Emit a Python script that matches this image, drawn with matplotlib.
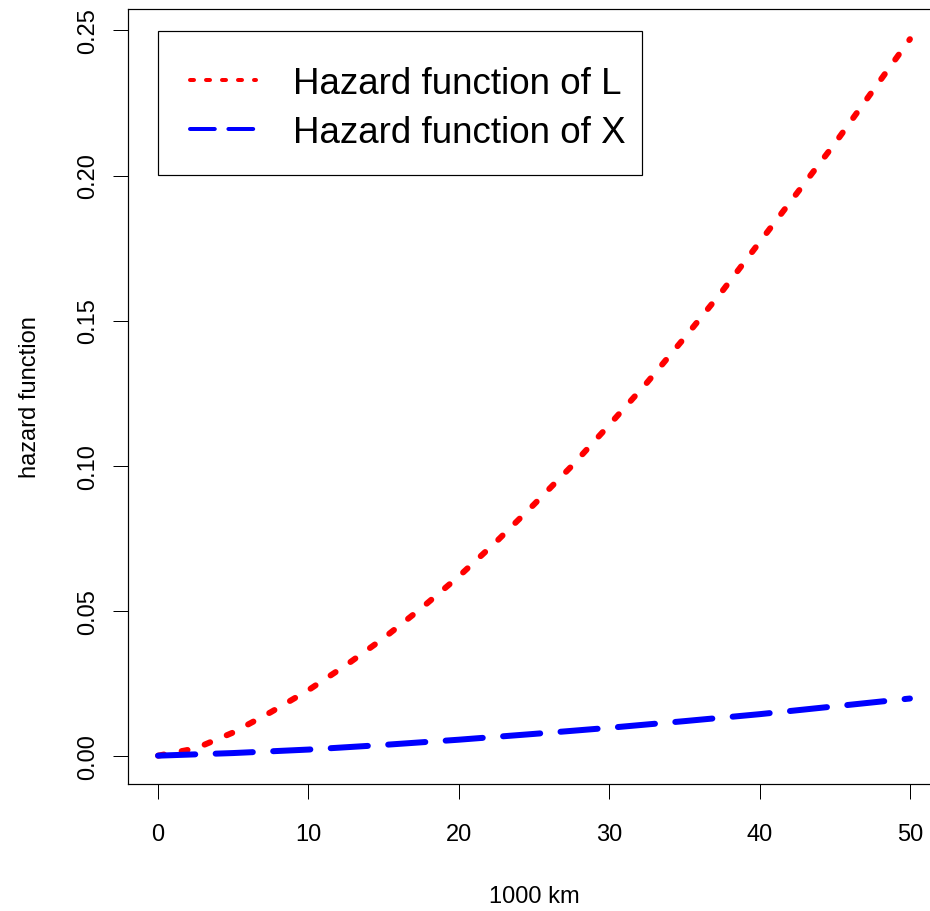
import matplotlib
matplotlib.use('Agg')
import matplotlib.pyplot as plt
from matplotlib.lines import Line2D
from matplotlib.patches import Rectangle

# ---- data ----
x_L = [0, 2.5, 5, 7.5, 10, 12.5, 15, 17.5, 20, 22.5, 25, 27.5, 30,
       32.5, 35, 37.5, 40, 42.5, 45, 47.5, 50]
hazard_L = [0.0, 0.0025, 0.0080, 0.0150, 0.0226, 0.0312, 0.0405, 0.0508,
            0.0618, 0.0738, 0.0866, 0.0998, 0.1140, 0.1285, 0.1440, 0.1600,
            0.1770, 0.1940, 0.2110, 0.2290, 0.2470]
x_X = [0, 5, 10, 15, 20, 25, 30, 35, 40, 45, 50]
hazard_X = [0.0, 0.0009, 0.0021, 0.0037, 0.0055, 0.0075, 0.0096, 0.0119,
            0.0143, 0.0170, 0.0197]
x_ticks = [0, 10, 20, 30, 40, 50]
y_ticks = [0.00, 0.05, 0.10, 0.15, 0.20, 0.25]
y_tick_labels = ['0.00', '0.05', '0.10', '0.15', '0.20', '0.25']
series_labels = ['Hazard function of L', 'Hazard function of X']
x_label = '1000 km'
y_label = 'hazard function'

# ---- style ----
plt.rcParams['font.family'] = ['Liberation Sans', 'DejaVu Sans']
DPI = 100
W, H = 930, 912


def px(p):
    return p * 72.0 / DPI


fig = plt.figure(figsize=(W / DPI, H / DPI), dpi=DPI)
ax = fig.add_axes([128 / W, 1 - 785 / H, 812 / W, 775 / H])

dot_style = (0, (1, 3))
dash_style = (0, (6.2, 3.4))

ax.plot(x_L, hazard_L, color='#ff0000', lw=px(6), linestyle=dot_style,
        dash_capstyle='round')
ax.plot(x_X, hazard_X, color='#0000ff', lw=px(6), linestyle=dash_style,
        dash_capstyle='round')

ax.set_xlim(-2, 52)
ax.set_ylim(-0.00977, 0.2574)

ax.set_xticks(x_ticks)
ax.set_xticklabels([str(t) for t in x_ticks])
ax.set_yticks(y_ticks)
ax.set_yticklabels(y_tick_labels, rotation=90, va='center')

ax.tick_params(axis='both', direction='out', length=px(15), width=px(1),
               labelsize=17, color='black')
ax.tick_params(axis='x', pad=17.5)
ax.tick_params(axis='y', pad=10)
for s in ax.spines.values():
    s.set_linewidth(px(1.2))
    s.set_color('black')

fig.text(534 / W, 1 - 897 / H, x_label, fontsize=17, ha='center', va='center')
fig.text(30 / W, 1 - 397 / H, y_label, fontsize=17, ha='center', va='center',
         rotation=90)

# legend
handles = [
    Line2D([], [], color='#ff0000', lw=px(4), linestyle=dot_style,
           dash_capstyle='round'),
    Line2D([], [], color='#0000ff', lw=px(4), linestyle=dash_style,
           dash_capstyle='round'),
]
leg = ax.legend(handles, series_labels, loc='center left',
                bbox_to_anchor=(190 / W, 1 - 109 / H),
                bbox_transform=fig.transFigure, frameon=False,
                fontsize=26.5, borderpad=0, borderaxespad=0,
                handlelength=1.8, handletextpad=1.0, labelspacing=0.36)
fig.add_artist(Rectangle((158 / W, 1 - 176 / H), (642 - 158) / W,
                         (176 - 32) / H, transform=fig.transFigure,
                         fill=False, ec='black', lw=px(1.2)))

fig.savefig('out.png', dpi=DPI)
